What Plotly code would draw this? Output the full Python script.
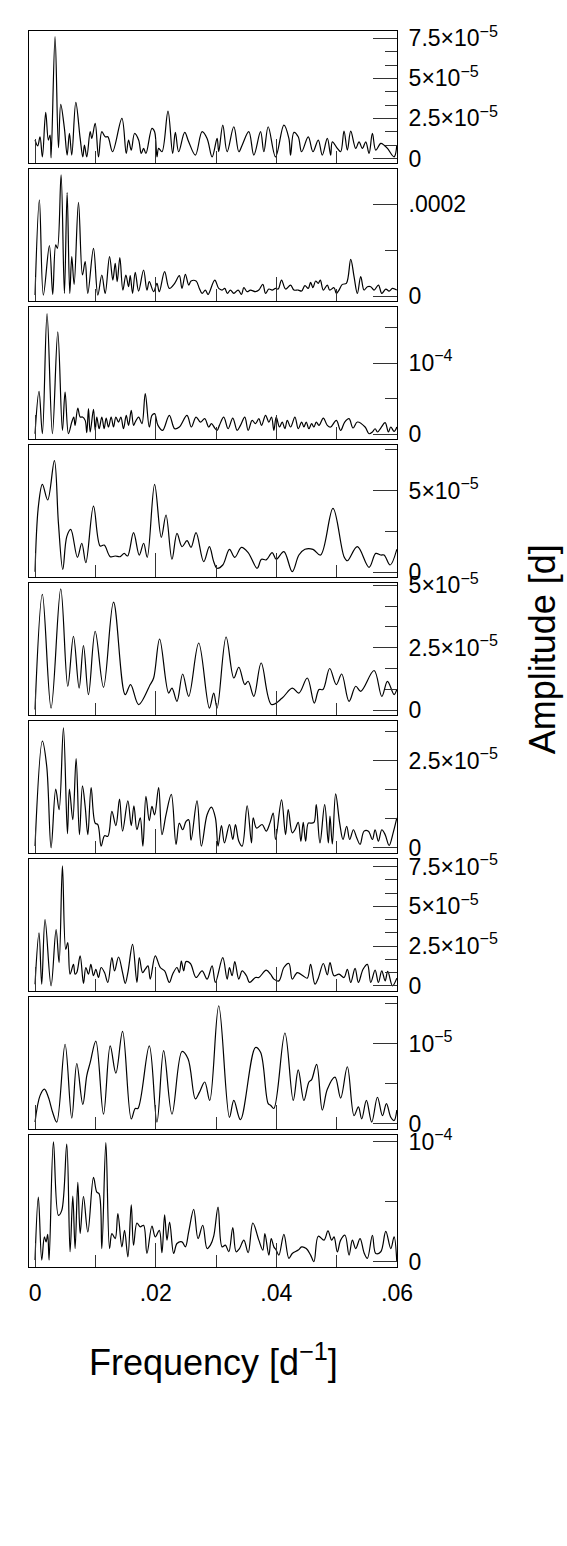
import plotly.graph_objects as go
from plotly.subplots import make_subplots

FREQ_UNIT = 1e-3   # frequencies below are in units of 1e-3 d^-1
AMP_UNIT = 1e-5    # amplitudes below are in units of 1e-5 d

f1 = [0, 0.44, 0.83, 1.22, 1.77, 2.21, 2.49, 2.66, 3.32, 3.88, 4.26, 4.87, 5.32, 5.70, 6.09, 6.76, 7.48, 7.92, 8.19, 8.58,
      9.14, 9.41, 9.97, 10.52, 11.07, 11.63, 12.07, 12.85, 14.40, 15.12, 15.50, 15.95, 16.50, 17.17, 17.61, 18.00, 18.38,
      19.38, 19.82, 20.21, 20.49, 21.04, 22.04, 22.81, 23.26, 23.81, 24.81, 25.47, 26.58, 27.69, 28.52, 29.35, 30.18,
      30.45, 31.12, 31.84, 32.95, 33.78, 34.33, 35.44, 36.27, 37.38, 37.93, 38.65, 39.87, 41.25, 42.08, 42.36, 42.91,
      43.63, 44.19, 45.29, 46.07, 46.95, 47.62, 48.45, 49.00, 49.28, 50.11, 50.66, 51.22, 51.77, 52.33, 53.16, 53.71,
      54.26, 54.82, 55.37, 55.92, 56.48, 57.31, 57.86, 58.42, 59.52, 59.97]
a1 = [1.15, 0.79, 1.35, 0.10, 2.88, 1.15, 1.46, 0.04, 7.60, 0.67, 3.38, 1.88, 0.21, 1.56, 0.21, 3.50, 1.25, 0.10, 0.83, 0.10,
      1.67, 1.25, 2.19, 0.10, 1.67, 1.35, 1.35, 0.42, 2.50, 0.31, 1.15, 0.52, 1.56, 1.15, 0.31, 0.63, 0.31,
      1.88, 1.67, 0.10, 0.63, 0.42, 2.96, 0.31, 1.63, 0.42, 1.63, 1.04, 0.21, 1.67, 1.25, 0.10, 1.25,
      0.42, 2.08, 0.42, 1.98, 0.42, 0.83, 1.67, 0.21, 1.67, 0.42, 1.98, 0.10, 2.08, 1.25, 0.21, 1.63,
      1.35, 0.42, 1.35, 0.42, 1.15, 0.21, 1.25, 0.21, 1.04, 0.63, 0.42, 1.71, 0.52, 1.71, 0.63, 1.04,
      0.63, 1.04, 0.31, 1.56, 0.52, 0.94, 0.83, 0.63, 0.10, 0.83]

f2 = [0, 0.72, 1.38, 2.38, 2.93, 3.43, 3.71, 4.32, 4.87, 5.32, 5.76, 6.09, 6.48, 7.20, 7.86, 8.31, 8.75, 9.69, 10.41, 11.07,
      11.63, 12.35, 12.90, 13.29, 13.62, 14.06, 14.56, 15.06, 15.50, 15.78, 16.17, 16.61, 17.17, 17.99, 18.55, 18.94,
      19.66, 20.21, 20.60, 21.48, 22.26, 23.15, 23.92, 24.36, 24.92, 25.47, 25.86, 26.69, 27.24, 27.69, 28.24, 28.68,
      29.79, 30.45, 31.01, 31.45, 31.89, 32.39, 32.95, 33.67, 34.22, 34.61, 35.16, 35.71, 36.54, 37.10, 37.76, 38.21,
      38.76, 39.31, 39.87, 40.31, 40.86, 41.53, 42.36, 42.91, 43.63, 44.19, 44.74, 45.29, 45.68, 46.07, 46.51, 46.95,
      47.29, 47.79, 48.45, 48.84, 49.56, 49.94, 50.39, 50.94, 51.61, 52.33, 52.88, 53.43, 53.99, 54.54, 55.09, 55.65,
      56.20, 56.92, 57.48, 58.14, 58.69, 59.25, 59.97]
a2 = [0.22, 20.96, 0.22, 10.99, 0.36, 11.14, 10.41, 26.42, 0.58, 22.56, 0.58, 8.59, 2.55, 20.45, 4.59, 7.50, 0.58, 10.41, 0.22, 4.59,
      0.58, 8.59, 3.49, 7.13, 3.13, 8.37, 1.31, 4.59, 2.04, 4.44, 0.58, 5.17, 1.09, 5.68, 1.31, 3.13,
      0.95, 2.77, 0.95, 5.31, 1.67, 2.77, 4.44, 1.67, 4.73, 2.40, 3.28, 3.28, 1.67, 0.58, 1.31, 0.36,
      3.49, 1.67, 1.31, 1.67, 0.58, 1.31, 0.58, 1.31, 0.36, 1.82, 0.95, 1.31, 0.95, 1.31, 2.55, 0.58,
      1.53, 1.31, 1.67, 1.53, 3.49, 1.53, 2.40, 1.31, 1.31, 1.09, 2.26, 1.67, 2.98, 1.82, 3.28, 2.77,
      3.49, 1.31, 2.40, 1.31, 1.82, 0.58, 1.31, 2.55, 2.77, 8.01, 4.22, 0.58, 4.22, 1.31, 2.04, 2.04,
      1.31, 2.40, 0.58, 1.53, 1.09, 1.67, 1.31]

f3 = [0, 0.66, 1.22, 1.99, 2.88, 3.77, 4.54, 4.98, 5.54, 6.09, 6.42, 6.64, 7.09, 7.48, 7.86, 8.31, 8.58, 8.86, 9.14, 9.69,
      9.97, 10.24, 10.63, 11.07, 11.46, 11.79, 12.18, 12.62, 13.01, 13.40, 13.84, 14.23, 14.67, 15.12, 15.50, 15.95,
      16.33, 16.61, 17.17, 17.72, 18.27, 18.94, 19.38, 19.82, 20.38, 21.15, 22.26, 23.15, 23.92, 25.19, 25.91, 26.69,
      27.41, 28.13, 28.79, 29.24, 29.79, 30.18, 30.56, 31.28, 32.00, 32.78, 33.50, 34.05, 34.77, 35.33, 35.99, 36.54,
      37.10, 37.54, 38.21, 38.76, 39.20, 39.59, 39.98, 40.53, 40.97, 41.42, 41.81, 42.36, 43.08, 43.63, 44.19, 44.57,
      44.96, 45.40, 45.85, 46.23, 46.62, 47.07, 47.79, 48.45, 49.00, 49.94, 50.66, 51.33, 52.05, 52.71, 53.43, 54.71,
      55.37, 55.92, 56.37, 56.76, 57.31, 58.03, 58.58, 58.97, 59.52, 59.97]
a3 = [0.09, 6.03, 0.09, 16.92, 0.09, 14.35, 0.56, 5.94, 0.09, 1.73, 2.43, 1.26, 3.69, 2.43, 2.43, 1.96, 0.23, 3.60, 0.33, 3.51,
      0.56, 2.43, 0.79, 2.43, 0.79, 2.29, 1.03, 2.43, 1.03, 2.43, 1.73, 2.43, 0.79, 2.66, 1.26, 3.37,
      1.26, 1.73, 2.43, 1.50, 5.70, 1.03, 2.66, 2.90, 1.26, 0.56, 2.66, 0.79, 1.03, 2.66, 1.03, 2.43,
      1.73, 2.20, 1.03, 1.50, 0.89, 0.56, 1.26, 2.43, 0.79, 2.29, 0.56, 1.26, 2.43, 0.56, 1.96, 1.50,
      2.20, 1.26, 2.66, 1.73, 2.43, 0.56, 2.43, 1.03, 1.73, 0.79, 1.96, 1.03, 2.43, 0.79, 1.73, 1.03,
      1.73, 0.79, 1.50, 1.03, 1.73, 1.26, 2.29, 1.26, 1.03, 1.96, 0.56, 1.73, 2.20, 0.89, 1.73, 1.03,
      0.09, 0.33, 0.79, 0.33, 0.89, 1.64, 0.33, 1.03, 0.42, 1.03]

f4 = [0, 0.55, 1.22, 2.10, 3.21, 3.88, 4.60, 5.26, 5.92, 7.03, 7.75, 8.42, 9.69, 10.80, 11.46, 12.46, 13.29, 14.12, 14.78,
      15.34, 16.33, 17.28, 18.00, 18.60, 19.82, 20.93, 21.71, 22.70, 23.53, 24.36, 25.19, 25.86, 26.69, 27.96, 28.90,
      29.62, 30.18, 31.12, 32.23, 33.11, 34.22, 35.33, 36.82, 37.54, 38.32, 39.31, 39.98, 41.25, 42.64, 43.74, 44.74,
      46.07, 47.34, 49.39, 51.22, 51.77, 53.43, 55.37, 56.48, 57.31, 57.86, 58.86, 59.97]
a4 = [0.04, 4.02, 5.39, 4.43, 6.84, 3.00, 0.18, 2.19, 2.63, 0.92, 1.78, 0.59, 4.06, 1.61, 1.67, 0.96, 1.00, 0.96, 1.16,
      1.00, 2.43, 1.06, 1.78, 0.92, 5.39, 2.14, 3.51, 0.80, 2.39, 1.57, 1.94, 1.53, 2.43, 0.65, 1.57,
      0.65, 0.25, 0.45, 1.41, 0.92, 1.53, 1.21, 0.25, 0.80, 0.76, 1.21, 0.80, 1.27, 0.04, 1.06, 1.41,
      1.41, 1.06, 3.92, 0.96, 0.71, 1.57, 0.31, 1.16, 1.06, 1.06, 0.45, 1.41]

f5 = [0, 1.22, 2.66, 4.26, 5.43, 6.37, 7.31, 8.03, 8.86, 9.97, 11.35, 13.01, 14.95, 15.84, 17.17, 19.10, 19.66, 20.65,
      22.15, 22.70, 23.53, 24.47, 25.47, 27.13, 28.90, 29.62, 30.18, 31.67, 32.95, 33.78, 34.77, 35.33, 36.27, 37.49,
      39.20, 40.97, 42.64, 43.74, 45.13, 46.29, 47.07, 47.73, 48.84, 49.94, 50.83, 52.05, 53.16, 53.99, 56.20, 57.48,
      58.42, 59.52, 59.97]
a5 = [0.03, 4.63, 0.09, 4.85, 0.96, 2.96, 0.89, 2.59, 0.63, 3.16, 0.92, 4.32, 0.63, 1.03, 0.23, 1.03, 1.29, 2.85,
      0.69, 0.89, 0.36, 1.45, 0.56, 2.69, 0.09, 0.69, 0.09, 2.93, 1.29, 1.72, 1.03, 1.16, 0.56, 1.89,
      0.23, 0.49, 0.89, 0.69, 1.29, 0.29, 0.83, 0.83, 1.67, 1.03, 1.45, 0.36, 0.96, 0.76, 1.59, 0.56,
      1.16, 0.63, 0.83]

f6 = [0, 1.22, 1.94, 2.66, 3.43, 3.99, 4.71, 5.37, 5.70, 6.26, 6.81, 7.36, 7.86, 8.31, 8.75, 9.30, 9.97, 10.41, 10.96,
      11.52, 12.07, 12.74, 13.40, 14.01, 14.51, 15.39, 15.95, 16.39, 16.89, 17.44, 17.88, 18.38, 18.94, 19.38, 19.82,
      20.49, 21.04, 21.71, 22.59, 23.37, 23.92, 24.47, 25.03, 25.47, 25.86, 26.85, 27.57, 28.52, 29.24, 29.90, 30.34,
      30.90, 31.40, 32.23, 32.78, 33.22, 33.78, 34.33, 35.16, 35.88, 36.16, 36.71, 37.65, 38.32, 38.93, 39.48, 39.87,
      40.86, 41.53, 41.97, 42.64, 43.08, 43.63, 44.07, 44.46, 44.85, 45.29, 45.68, 46.23, 46.62, 47.23, 48.01, 48.62,
      48.89, 49.28, 49.83, 50.50, 51.05, 51.66, 52.16, 52.77, 53.32, 53.88, 54.54, 55.26, 55.92, 56.37, 56.92, 57.48,
      58.03, 58.69, 59.36, 59.97]
a6 = [0.05, 3.07, 2.34, 0.00, 1.69, 1.10, 3.45, 0.41, 1.69, 0.81, 2.57, 0.38, 1.78, 1.19, 0.38, 1.73, 0.71, 0.67, 0.05,
      0.35, 0.33, 1.05, 0.64, 1.40, 0.48, 1.35, 0.64, 1.21, 0.52, 0.86, 0.05, 1.48, 0.78, 1.19, 0.95,
      1.73, 0.38, 0.95, 1.54, 0.10, 0.71, 0.52, 0.76, 0.81, 0.22, 1.35, 0.05, 0.95, 1.17, 0.86, 0.05,
      0.64, 0.14, 0.67, 0.24, 0.67, 0.19, 0.05, 1.21, 0.14, 0.86, 0.57, 0.67, 0.48, 0.71, 1.00, 0.24,
      1.38, 0.38, 1.10, 0.43, 0.52, 0.73, 0.19, 0.73, 0.19, 0.71, 0.71, 0.73, 1.24, 0.14, 1.24, 0.14,
      0.91, 0.11, 1.55, 0.71, 0.24, 0.62, 0.24, 0.52, 0.29, 0.10, 0.48, 0.48, 0.24, 0.52, 0.19, 0.52,
      0.38, 0.07, 0.43, 0.86]

f7 = [0, 0.66, 1.11, 1.66, 2.66, 3.49, 3.99, 4.54, 5.09, 5.43, 5.81, 6.37, 6.64, 6.92, 7.48, 8.03, 8.42, 8.86, 9.25, 9.69,
      10.08, 10.52, 10.96, 11.52, 12.07, 12.74, 13.18, 13.84, 14.51, 14.95, 15.39, 16.17, 16.89, 17.28, 17.83, 18.27,
      18.72, 19.10, 19.93, 20.76, 21.48, 22.26, 22.81, 23.53, 23.92, 24.25, 24.64, 25.03, 25.75, 26.69, 27.69, 28.52,
      29.35, 29.90, 31.12, 31.84, 32.23, 32.67, 33.11, 33.78, 34.33, 35.05, 35.55, 36.54, 37.10, 38.32, 39.04, 39.59,
      40.42, 41.25, 42.08, 42.64, 43.47, 44.41, 45.13, 45.68, 46.40, 46.95, 47.79, 48.45, 48.89, 49.56, 50.39, 51.22,
      51.77, 52.33, 53.05, 53.60, 54.37, 55.09, 55.65, 56.37, 56.92, 57.48, 58.03, 58.47, 59.25, 59.97]
a7 = [0.10, 3.33, 0.10, 4.17, 0.00, 3.54, 1.46, 7.54, 2.29, 2.71, 0.73, 1.35, 0.73, 0.83, 1.88, 0.15, 1.15, 0.73, 1.35, 0.63,
      1.04, 0.52, 1.15, 0.83, 0.21, 1.77, 0.94, 1.81, 0.83, 0.15, 0.83, 2.60, 0.21, 1.77, 0.83, 1.04,
      1.25, 0.42, 1.88, 1.15, 0.94, 0.21, 0.73, 1.15, 0.83, 1.56, 0.94, 1.52, 1.40, 0.52, 0.94, 0.42,
      1.25, 0.21, 1.77, 0.42, 1.15, 0.63, 1.52, 0.42, 0.94, 0.63, 0.21, 0.52, 0.52, 0.98, 0.73, 0.42,
      0.31, 1.15, 1.40, 0.42, 0.83, 0.63, 0.48, 1.35, 0.10, 0.48, 1.40, 0.69, 1.46, 0.63, 0.73, 0.52,
      1.04, 0.21, 1.10, 0.21, 1.04, 1.35, 0.21, 0.98, 0.21, 0.94, 0.31, 0.90, 0.00, 0.48]

f8 = [0, 0.83, 1.55, 2.21, 2.93, 3.60, 4.98, 6.09, 6.92, 7.92, 8.58, 9.14, 10.08, 11.35, 12.46, 13.40, 14.51, 15.95, 16.61,
      17.06, 18.94, 20.21, 21.32, 22.70, 24.36, 25.36, 26.58, 27.24, 28.13, 28.96, 30.45, 32.23, 32.95, 34.05, 36.54,
      37.38, 38.65, 39.04, 39.59, 41.42, 42.80, 43.63, 44.57, 45.40, 45.85, 46.68, 47.62, 48.45, 49.72, 50.66, 51.77,
      52.88, 53.60, 54.15, 54.93, 55.81, 56.76, 57.59, 58.25, 58.97, 59.52, 59.97]
a8 = [0.02, 0.35, 0.43, 0.33, 0.14, 0.02, 0.99, 0.07, 0.75, 0.24, 0.60, 0.76, 1.03, 0.12, 0.97, 0.63, 1.15, 0.06, 0.19,
      0.19, 0.97, 0.02, 0.91, 0.12, 0.90, 0.81, 0.31, 0.39, 0.52, 0.29, 1.47, 0.08, 0.29, 0.05, 0.95,
      0.89, 0.25, 0.23, 0.19, 1.13, 0.29, 0.67, 0.29, 0.52, 0.55, 0.74, 0.17, 0.43, 0.58, 0.32, 0.71,
      0.10, 0.21, 0.06, 0.29, 0.02, 0.33, 0.10, 0.25, 0.08, 0.04, 0.17]

f9 = [0, 0.55, 1.11, 1.55, 1.83, 2.10, 2.33, 3.05, 3.88, 4.43, 5.26, 5.81, 6.26, 6.64, 7.09, 7.48, 8.03, 8.75, 9.69, 10.24,
      10.63, 11.07, 11.74, 12.35, 12.74, 13.29, 13.73, 14.40, 14.84, 15.39, 15.95, 16.33, 16.89, 17.44, 17.99, 18.55,
      19.38, 19.93, 20.60, 21.04, 21.48, 21.87, 22.31, 22.98, 23.53, 24.36, 24.92, 25.47, 26.30, 27.02, 27.80, 28.52,
      29.07, 29.62, 30.34, 31.01, 31.56, 32.12, 32.78, 33.33, 33.89, 34.61, 35.33, 36.10, 37.10, 37.76, 38.10, 38.76,
      39.15, 39.59, 39.98, 40.42, 41.25, 42.08, 42.64, 43.63, 44.19, 44.96, 45.68, 46.23, 46.95, 47.90, 48.56, 49.17,
      49.56, 50.11, 50.66, 51.38, 52.05, 52.60, 53.16, 53.88, 54.54, 55.09, 55.92, 56.48, 57.31, 58.14, 58.97, 59.52,
      59.97]
a9 = [0.14, 5.39, 0.14, 2.07, 1.66, 2.29, 0.14, 10.00, 3.87, 4.28, 9.81, 0.83, 5.47, 1.10, 6.63, 2.35, 5.44, 2.49, 7.04, 5.80,
      5.66, 1.10, 9.94, 1.10, 2.35, 1.93, 4.01, 1.24, 2.62, 0.41, 4.75, 1.38, 3.23, 2.90, 3.04, 0.69,
      2.98, 2.07, 2.62, 0.75, 3.92, 1.80, 3.31, 0.69, 1.52, 1.66, 1.24, 2.49, 4.36, 1.93, 3.04, 1.10,
      1.38, 2.13, 4.56, 1.24, 1.38, 0.83, 2.85, 0.83, 1.10, 1.80, 0.75, 3.23, 1.80, 0.97, 2.35, 0.55,
      1.93, 1.24, 0.97, 0.55, 2.29, 0.28, 0.69, 0.97, 1.24, 1.10, 0.55, 0.00, 2.13, 1.80, 2.57, 1.80,
      2.07, 0.83, 1.80, 2.21, 0.55, 1.80, 1.10, 1.93, 0.75, 0.28, 2.21, 0.69, 0.83, 2.54, 1.10, 2.07,
      0.00]

freqs = [f1, f2, f3, f4, f5, f6, f7, f8, f9]
amps = [a1, a2, a3, a4, a5, a6, a7, a8, a9]

SUP = lambda e: "10<sup>\u2212%d</sup>" % e
y_ranges = [(-0.29e-5, 7.956e-5), (-0.11e-4, 2.77e-4), (-0.066e-4, 1.785e-4), (-0.29e-5, 7.8e-5),
            (-0.19e-5, 5.09e-5), (-0.15e-5, 3.65e-5), (-0.33e-5, 7.98e-5), (-0.066e-5, 1.58e-5),
            (-0.044e-4, 1.058e-4)]
y_major = [[0, 2.5e-5, 5e-5, 7.5e-5], [0, 2e-4], [0, 1e-4], [0, 5e-5], [0, 2.5e-5, 5e-5],
           [0, 2.5e-5], [0, 2.5e-5, 5e-5, 7.5e-5], [0, 1e-5], [0, 1e-4]]
y_labels = [["0", "2.5\u00d7" + SUP(5), "5\u00d7" + SUP(5), "7.5\u00d7" + SUP(5)],
            ["0", ".0002"],
            ["0", SUP(4)],
            ["0", "5\u00d7" + SUP(5)],
            ["0", "2.5\u00d7" + SUP(5), "5\u00d7" + SUP(5)],
            ["0", "2.5\u00d7" + SUP(5)],
            ["0", "2.5\u00d7" + SUP(5), "5\u00d7" + SUP(5), "7.5\u00d7" + SUP(5)],
            ["0", SUP(5)],
            ["0", SUP(4)]]
y_minor = [[0.8333e-5, 1.6667e-5, 3.3333e-5, 4.1667e-5, 5.8333e-5, 6.6667e-5],
           [1e-4], [0.5e-4, 1.5e-4], [2.5e-5, 7.5e-5],
           [0.8333e-5, 1.6667e-5, 3.3333e-5, 4.1667e-5],
           [0.8333e-5, 1.6667e-5, 3.3333e-5],
           [0.8333e-5, 1.6667e-5, 3.3333e-5, 4.1667e-5, 5.8333e-5, 6.6667e-5],
           [0.5e-5, 1.5e-5], [0.5e-4]]
x_major = [0, 0.02, 0.04, 0.06]
x_labels = ["0", ".02", ".04", ".06"]
x_minor = [0.01, 0.03, 0.05]

FONT = "Liberation Sans, Arial, Helvetica, sans-serif"
n = 9
fig = make_subplots(rows=n, cols=1, vertical_spacing=0.00475)

for i in range(n):
    fig.add_trace(go.Scatter(
        x=[v * FREQ_UNIT for v in freqs[i]], y=[v * AMP_UNIT for v in amps[i]],
        mode="lines", line=dict(color="black", width=1.2, shape="spline", smoothing=1.0),
        showlegend=False, hoverinfo="skip"), row=i + 1, col=1)
    fig.update_xaxes(row=i + 1, col=1, range=[-0.001, 0.06], showline=True, mirror=True,
                     linecolor="black", linewidth=1, showgrid=False, zeroline=False,
                     ticks="inside", ticklen=24, tickwidth=1, tickcolor="#333",
                     tickmode="array", tickvals=x_major, ticktext=x_labels,
                     showticklabels=(i == n - 1), ticklabelstandoff=5,
                     tickfont=dict(family=FONT, size=23, color="black"),
                     minor=dict(tickmode="array", tickvals=x_minor, ticks="inside", ticklen=12,
                                tickwidth=1, tickcolor="#333", showgrid=False))
    fig.update_yaxes(row=i + 1, col=1, range=list(y_ranges[i]), side="right", showline=True, mirror=True,
                     linecolor="black", linewidth=1, showgrid=False, zeroline=False,
                     ticks="inside", ticklen=24, tickwidth=1, tickcolor="#333",
                     tickmode="array", tickvals=y_major[i], ticktext=y_labels[i],
                     ticklabelstandoff=6,
                     tickfont=dict(family=FONT, size=23, color="black"),
                     minor=dict(tickmode="array", tickvals=y_minor[i], ticks="inside", ticklen=12,
                                tickwidth=1, tickcolor="#333", showgrid=False))

fig.add_annotation(text="Frequency [d<sup>\u22121</sup>]", xref="paper", yref="paper",
                   x=0.5, y=-0.0755, xanchor="center", yanchor="middle", showarrow=False,
                   font=dict(family=FONT, size=36, color="black"))
fig.add_annotation(text="Amplitude [d]", xref="paper", yref="paper",
                   x=1.395, y=0.5, xanchor="center", yanchor="middle", showarrow=False,
                   textangle=-90, font=dict(family=FONT, size=36, color="black"))

fig.update_layout(width=567, height=1546, margin=dict(l=29, r=170, t=31, b=279),
                  paper_bgcolor="white", plot_bgcolor="white",
                  font=dict(family=FONT, color="black"))

fig.write_html("out.html")
